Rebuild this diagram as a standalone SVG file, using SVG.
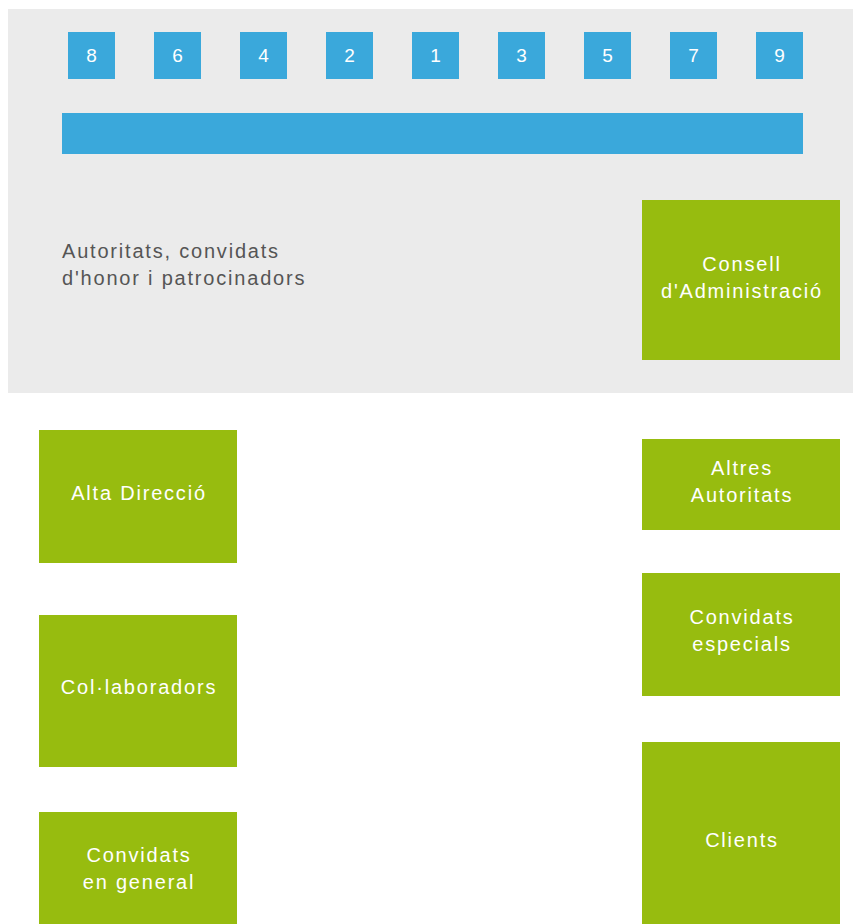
<svg xmlns="http://www.w3.org/2000/svg" width="853" height="924" viewBox="0 0 853 924">
<style>
.seat{fill:#3AA8DB}
.num{fill:#fff;font-family:"Liberation Sans",Arial,sans-serif;font-size:19px;text-anchor:middle}
.box{fill:#97BC0F}
.lbl{fill:#fff;font-family:"Liberation Sans",Arial,sans-serif;font-size:20px;text-anchor:middle;letter-spacing:1.8px}
.note{fill:#555;font-family:"Liberation Sans",Arial,sans-serif;font-size:20px;letter-spacing:1.8px}
</style>
<rect width="853" height="924" fill="#fff"/>
<g id="stage">
<rect x="8" y="9" width="845" height="384" fill="#EBEBEB"/>
</g>
<g id="seat-8"><rect class="seat" x="68" y="32" width="47" height="47"/><text class="num" x="91.5" y="62">8</text></g>
<g id="seat-6"><rect class="seat" x="154" y="32" width="47" height="47"/><text class="num" x="177.5" y="62">6</text></g>
<g id="seat-4"><rect class="seat" x="240" y="32" width="47" height="47"/><text class="num" x="263.5" y="62">4</text></g>
<g id="seat-2"><rect class="seat" x="326" y="32" width="47" height="47"/><text class="num" x="349.5" y="62">2</text></g>
<g id="seat-1"><rect class="seat" x="412" y="32" width="47" height="47"/><text class="num" x="435.5" y="62">1</text></g>
<g id="seat-3"><rect class="seat" x="498" y="32" width="47" height="47"/><text class="num" x="521.5" y="62">3</text></g>
<g id="seat-5"><rect class="seat" x="584" y="32" width="47" height="47"/><text class="num" x="607.5" y="62">5</text></g>
<g id="seat-7"><rect class="seat" x="670" y="32" width="47" height="47"/><text class="num" x="693.5" y="62">7</text></g>
<g id="seat-9"><rect class="seat" x="756" y="32" width="47" height="47"/><text class="num" x="779.5" y="62">9</text></g>
<g id="table"><rect class="seat" x="62" y="113" width="741" height="41"/></g>
<g id="autoritats-label">
<text class="note" x="62" y="258">Autoritats, convidats</text>
<text class="note" x="62" y="285">d'honor i patrocinadors</text>
</g>
<g id="consell"><rect class="box" x="642" y="200" width="198" height="160"/>
<text class="lbl" x="742" y="271">Consell</text><text class="lbl" x="742" y="298">d'Administració</text></g>
<g id="alta-direccio"><rect class="box" x="39" y="430" width="198" height="133"/>
<text class="lbl" x="139" y="500">Alta Direcció</text></g>
<g id="collaboradors"><rect class="box" x="39" y="615" width="198" height="152"/>
<text class="lbl" x="139" y="694">Col·laboradors</text></g>
<g id="convidats-general"><rect class="box" x="39" y="812" width="198" height="120"/>
<text class="lbl" x="139" y="862">Convidats</text><text class="lbl" x="139" y="889">en general</text></g>
<g id="altres-autoritats"><rect class="box" x="642" y="439" width="198" height="91"/>
<text class="lbl" x="742" y="475">Altres</text><text class="lbl" x="742" y="502">Autoritats</text></g>
<g id="convidats-especials"><rect class="box" x="642" y="573" width="198" height="123"/>
<text class="lbl" x="742" y="624">Convidats</text><text class="lbl" x="742" y="651">especials</text></g>
<g id="clients"><rect class="box" x="642" y="742" width="198" height="190"/>
<text class="lbl" x="742" y="847">Clients</text></g>
<g id="connectors"></g>
</svg>
